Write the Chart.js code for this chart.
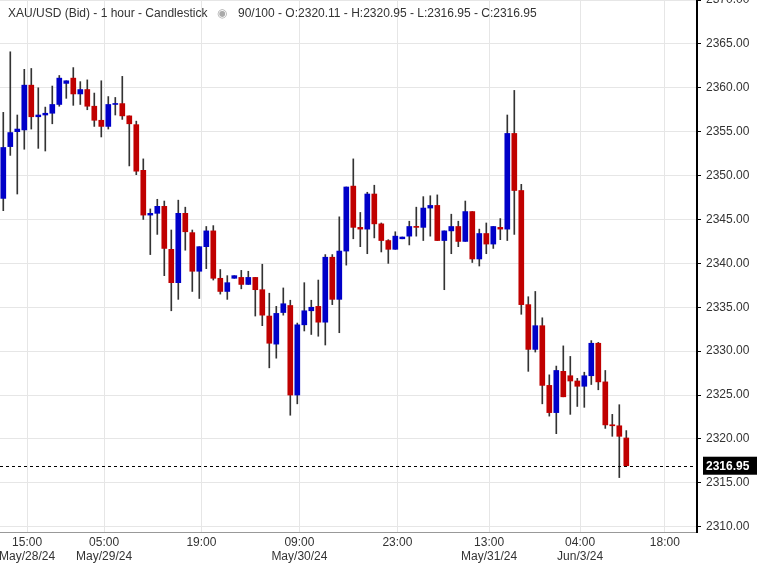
<!DOCTYPE html>
<html>
<head>
<meta charset="utf-8">
<script src="https://cdn.jsdelivr.net/npm/chart.js@4"></script>
<style>
  body { margin: 0; background: #fff; }
  #wrap { width: 760px; height: 565px; }
</style>
</head>
<body>
<div id="wrap"><canvas id="myChart"></canvas></div>
<script>
// hourly OHLC, XAU/USD bid
const opens = [2347.4,2353.3,2355.0,2355.2,2360.3,2356.7,2356.9,2357.1,2358.1,2360.5,
  2361.1,2359.3,2359.8,2357.9,2356.3,2355.6,2358.1,2358.2,2356.8,2355.8,
  2350.6,2345.5,2345.7,2346.5,2341.6,2337.8,2345.7,2343.5,2339.1,2341.9,
  2343.7,2338.3,2336.8,2338.3,2338.4,2337.6,2338.4,2337.0,2334.0,2330.8,
  2334.4,2335.2,2325.0,2333.0,2334.6,2335.1,2333.3,2340.7,2335.9,2341.4,
  2348.8,2344.1,2343.9,2347.9,2344.5,2342.6,2341.6,2342.8,2343.1,2344.2,
  2344.1,2346.3,2346.6,2342.6,2343.7,2344.2,2342.5,2345.9,2340.5,2343.4,
  2342.2,2344.1,2343.9,2354.8,2348.3,2335.3,2330.2,2332.9,2326.1,2323.0,
  2327.7,2327.2,2326.6,2326.0,2327.2,2330.9,2326.5,2321.6,2321.5,2320.11];
const highs = [2357.2,2364.1,2356.9,2362.1,2362.2,2360.0,2357.8,2360.2,2361.4,2360.8,
  2362.3,2360.7,2360.9,2359.4,2360.8,2359.0,2358.9,2361.3,2356.8,2356.2,
  2351.9,2346.2,2347.3,2347.1,2343.8,2347.2,2346.4,2343.8,2341.9,2344.2,
  2344.3,2339.3,2338.6,2338.6,2339.2,2339.1,2338.4,2339.9,2336.6,2335.1,
  2337.2,2335.8,2333.2,2337.8,2335.8,2338.1,2341.0,2341.0,2345.3,2348.7,
  2351.9,2345.8,2348.1,2348.9,2344.6,2342.7,2343.6,2343.0,2344.8,2346.4,
  2347.6,2347.7,2347.8,2343.7,2345.6,2344.8,2347.1,2345.9,2343.9,2344.6,
  2344.2,2345.1,2356.9,2359.7,2349.0,2336.2,2336.8,2333.8,2327.3,2328.3,
  2330.6,2329.4,2326.9,2327.6,2331.2,2331.0,2327.8,2322.8,2323.9,2320.95];
const lows = [2346.0,2352.3,2347.9,2353.0,2355.3,2353.1,2352.8,2355.9,2357.9,2358.8,
  2358.0,2358.1,2357.5,2355.6,2354.4,2355.3,2356.9,2356.4,2351.1,2350.1,
  2345.0,2341.0,2343.3,2338.6,2334.6,2335.9,2341.5,2336.8,2336.0,2339.4,
  2338.1,2336.5,2335.9,2338.3,2337.1,2337.6,2334.0,2332.9,2328.1,2329.2,
  2334.1,2322.7,2324.0,2332.3,2331.9,2331.7,2330.7,2335.3,2332.1,2339.8,
  2342.8,2341.9,2341.1,2342.9,2341.3,2340.0,2341.6,2342.8,2342.1,2343.1,
  2342.6,2343.1,2342.6,2337.0,2341.1,2341.9,2342.5,2340.1,2339.7,2341.1,
  2341.7,2342.7,2342.6,2343.3,2334.2,2327.7,2329.9,2324.0,2322.6,2320.6,
  2324.8,2322.8,2323.7,2323.6,2326.2,2325.6,2321.2,2320.3,2315.6,2316.95];
const closes = [2353.2,2354.9,2355.3,2360.3,2356.7,2356.9,2357.1,2358.1,2361.1,2360.8,
  2359.3,2359.8,2357.9,2356.3,2355.6,2358.1,2358.2,2356.8,2355.9,2350.5,
  2345.5,2345.7,2346.5,2341.7,2337.8,2345.7,2343.6,2339.1,2341.9,2343.7,
  2338.3,2336.8,2337.8,2338.6,2337.6,2338.4,2337.0,2334.1,2330.9,2334.3,
  2335.4,2325.0,2333.0,2334.6,2335.0,2333.3,2340.7,2335.9,2341.4,2348.7,
  2344.1,2343.9,2347.9,2344.5,2342.6,2341.6,2343.1,2343.0,2344.2,2344.1,
  2346.3,2346.6,2342.6,2343.7,2344.2,2342.5,2345.9,2340.5,2343.4,2342.2,
  2344.2,2343.9,2354.8,2348.3,2335.3,2330.2,2332.9,2326.1,2323.0,2327.8,
  2324.8,2326.6,2326.0,2327.2,2330.9,2326.5,2321.6,2321.5,2320.3,2316.95];

// x tick positions (bar index) and their labels
const tickPos = [3.4, 14.4, 28.3, 42.3, 56.3, 69.4, 82.4, 94.5];
const tickLabels = [['15:00','May/28/24'], ['05:00','May/29/24'], '19:00', ['09:00','May/30/24'],
  '23:00', ['13:00','May/31/24'], ['04:00','Jun/3/24'], '18:00'];
const priceTicks = [2310, 2315, 2320, 2325, 2330, 2335, 2340, 2345, 2350, 2355, 2360, 2365, 2370];

const UP = '#0000c8', DOWN = '#c00000';
const last = closes[closes.length - 1];

const bodies = opens.map((o, i) => ({x: i, y: [o, closes[i]]}));
const wicks = opens.map((o, i) => ({x: i, y: [lows[i], highs[i]]}));
const bodyColors = opens.map((o, i) => closes[i] >= o ? UP : DOWN);

const overlay = {
  id: 'overlay',
  afterDraw(chart) {
    const c = chart.ctx, area = chart.chartArea;
    const y = chart.scales.y.getPixelForValue(last);
    c.save();
    c.strokeStyle = '#000';
    c.lineWidth = 1;
    c.setLineDash([3, 3]);
    c.beginPath();
    c.moveTo(area.left, Math.round(y) + 0.5);
    c.lineTo(area.right, Math.round(y) + 0.5);
    c.stroke();
    c.setLineDash([]);
    c.fillStyle = '#000';
    c.fillRect(area.right + 6, y - 9, 54, 18);
    c.fillStyle = '#fff';
    c.font = 'bold 12px "Liberation Sans", Arial';
    c.textBaseline = 'middle';
    c.fillText(last.toFixed(2), area.right + 9, y + 1);
    c.fillStyle = '#333';
    c.font = '12px "Liberation Sans", Arial';
    c.fillText('XAU/USD (Bid) - 1 hour - Candlestick', 8, 14);
    c.fillStyle = '#aaa';
    c.fillText('\u25C9', 217, 14);
    c.fillStyle = '#333';
    c.fillText('90/100 - O:2320.11 - H:2320.95 - L:2316.95 - C:2316.95', 238, 14);
    c.restore();
  }
};

new Chart(document.getElementById('myChart'), {
  type: 'bar',
  data: {
    datasets: [{
      label: 'body',
      data: bodies,
      backgroundColor: bodyColors,
      barThickness: 5,
      minBarLength: 1,
      grouped: false,
      order: 0
    }, {
      label: 'wick',
      data: wicks,
      backgroundColor: '#333',
      barThickness: 1,
      grouped: false,
      order: 1
    }]
  },
  options: {
    responsive: true,
    maintainAspectRatio: false,
    animation: false,
    layout: { padding: 0 },
    plugins: { legend: { display: false }, tooltip: { enabled: false } },
    scales: {
      x: {
        type: 'linear',
        offset: false,
        min: -0.47,
        max: 99.1,
        afterBuildTicks: (s) => { s.ticks = tickPos.map(v => ({value: v})); },
        afterFit: (s) => { s.height = 33; s.paddingLeft = 0; s.paddingRight = 0; },
        ticks: {
          autoSkip: false,
          maxRotation: 0,
          color: '#333',
          font: { size: 12, family: '"Liberation Sans", Arial' },
          padding: 3,
          callback: (v, i) => tickLabels[i]
        },
        grid: { color: '#e6e6e6', drawTicks: false, offset: false },
        border: { color: '#999' }
      },
      y: {
        position: 'right',
        min: 2309.4,
        max: 2370,
        afterBuildTicks: (s) => { s.ticks = priceTicks.map(v => ({value: v})); },
        afterFit: (s) => { s.width = 63; s.paddingTop = 0; s.paddingBottom = 0; },
        ticks: {
          color: '#333',
          font: { size: 12, family: '"Liberation Sans", Arial' },
          padding: 5,
          callback: (v) => v.toFixed(2)
        },
        grid: { color: '#e6e6e6', drawTicks: true, tickLength: 4, tickColor: '#000' },
        border: { color: '#000', width: 2 }
      }
    }
  },
  plugins: [overlay]
});
</script>
</body>
</html>
